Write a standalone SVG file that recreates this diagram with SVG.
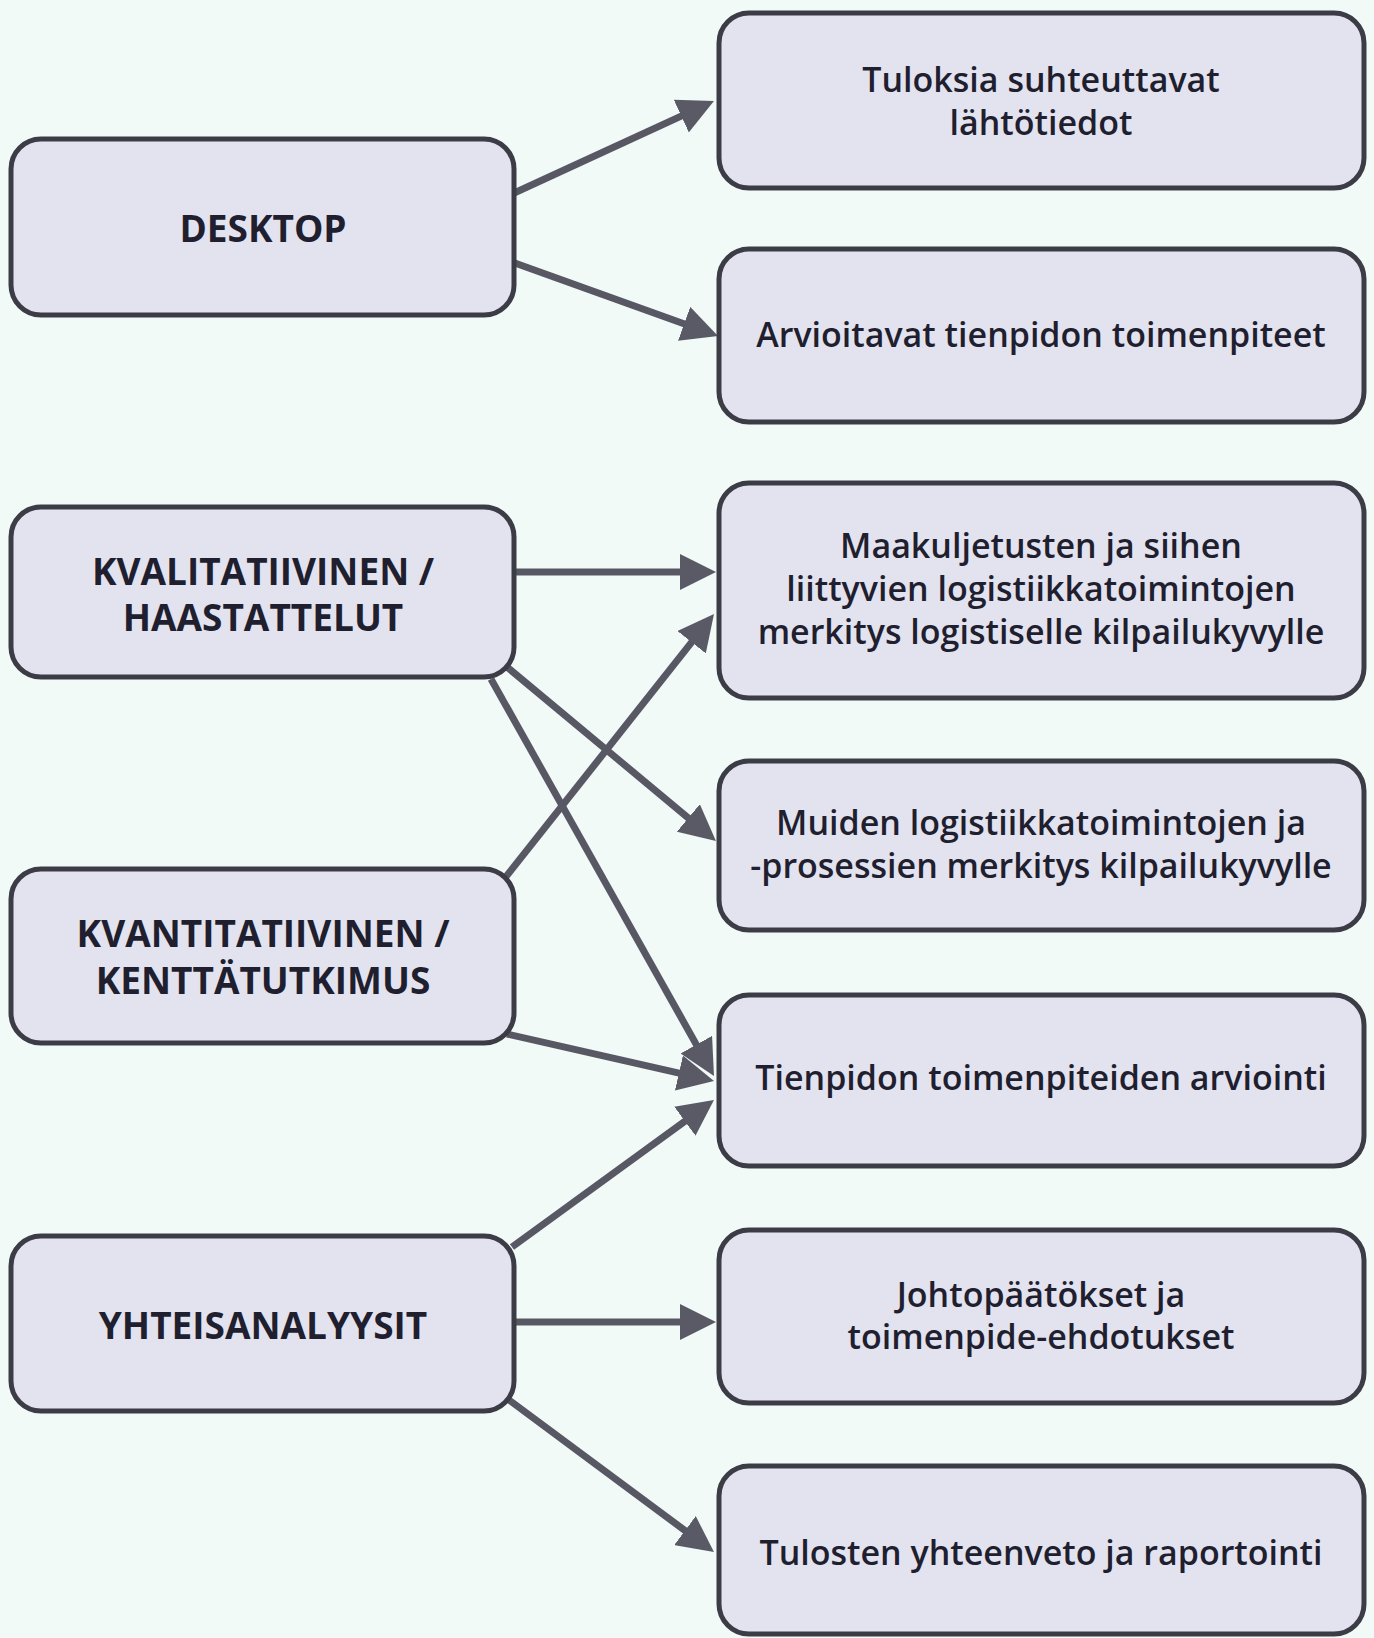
<svg xmlns="http://www.w3.org/2000/svg" width="1374" height="1638" viewBox="0 0 1374 1638">
<style>
.box{fill:#e3e3ef;stroke:#3c3c46;stroke-width:5}
.t{font-family:"Open Sans","Noto Sans",sans-serif;fill:#1f1f30;text-anchor:middle;dominant-baseline:central}
.lt{font-size:37px;font-weight:700}
.rt{font-size:34px;font-weight:600}
.c{stroke:#585864;stroke-width:7;fill:none}
</style>
<defs>
<marker id="ah" markerUnits="userSpaceOnUse" markerWidth="36" markerHeight="36" refX="16" refY="18" orient="auto" viewBox="0 0 36 36">
<path d="M0,0 L36,18 L0,36 z" fill="#5a5a66"/>
</marker>
</defs>
<rect width="1374" height="1638" fill="#f1faf7"/>
<g id="connectors">
<line class="c" x1="512" y1="194" x2="695.8" y2="109.4" marker-end="url(#ah)"/>
<line class="c" x1="512" y1="262" x2="699.2" y2="329.2" marker-end="url(#ah)"/>
<line class="c" x1="512" y1="572" x2="696" y2="572" marker-end="url(#ah)"/>
<line class="c" x1="505" y1="878" x2="701.6" y2="629.7" marker-end="url(#ah)"/>
<line class="c" x1="507" y1="667" x2="700.6" y2="828.2" marker-end="url(#ah)"/>
<line class="c" x1="491" y1="679" x2="704.2" y2="1058.6" marker-end="url(#ah)"/>
<line class="c" x1="507" y1="1034" x2="694.5" y2="1076.6" marker-end="url(#ah)"/>
<line class="c" x1="512" y1="1247" x2="697.8" y2="1111.8" marker-end="url(#ah)"/>
<line class="c" x1="512" y1="1322" x2="696" y2="1322" marker-end="url(#ah)"/>
<line class="c" x1="509" y1="1400" x2="697.9" y2="1540.1" marker-end="url(#ah)"/>
</g>
<g id="desktop"><rect class="box" x="11" y="139" width="503" height="176" rx="30"/><text class="t lt" x="263" y="227">DESKTOP</text></g>
<g id="kvalitatiivinen"><rect class="box" x="11" y="507" width="503" height="170" rx="30"/><text class="t lt" x="263" y="570">KVALITATIIVINEN /</text><text class="t lt" x="263" y="616">HAASTATTELUT</text></g>
<g id="kvantitatiivinen"><rect class="box" x="11" y="869" width="503" height="174" rx="30"/><text class="t lt" x="263" y="932">KVANTITATIIVINEN /</text><text class="t lt" x="263" y="979">KENTTÄTUTKIMUS</text></g>
<g id="yhteisanalyysit"><rect class="box" x="11" y="1236" width="503" height="175" rx="30"/><text class="t lt" x="263" y="1324">YHTEISANALYYSIT</text></g>
<g id="lahtotiedot"><rect class="box" x="719" y="13" width="645" height="175" rx="30"/><text class="t rt" x="1041" y="79">Tuloksia suhteuttavat</text><text class="t rt" x="1041" y="122">lähtötiedot</text></g>
<g id="arvioitavat"><rect class="box" x="719" y="249" width="645" height="173" rx="30"/><text class="t rt" x="1041" y="334">Arvioitavat tienpidon toimenpiteet</text></g>
<g id="maakuljetusten"><rect class="box" x="719" y="483" width="645" height="215" rx="30"/><text class="t rt" x="1041" y="545">Maakuljetusten ja siihen</text><text class="t rt" x="1041" y="588">liittyvien logistiikkatoimintojen</text><text class="t rt" x="1041" y="631">merkitys logistiselle kilpailukyvylle</text></g>
<g id="muiden"><rect class="box" x="719" y="761" width="645" height="169" rx="30"/><text class="t rt" x="1041" y="822">Muiden logistiikkatoimintojen ja</text><text class="t rt" x="1041" y="865">-prosessien merkitys kilpailukyvylle</text></g>
<g id="tienpidon"><rect class="box" x="719" y="995" width="645" height="171" rx="30"/><text class="t rt" x="1041" y="1077">Tienpidon toimenpiteiden arviointi</text></g>
<g id="johtopaatokset"><rect class="box" x="719" y="1230" width="645" height="173" rx="30"/><text class="t rt" x="1041" y="1294">Johtopäätökset ja</text><text class="t rt" x="1041" y="1336">toimenpide-ehdotukset</text></g>
<g id="tulosten"><rect class="box" x="719" y="1466" width="645" height="168" rx="30"/><text class="t rt" x="1041" y="1552">Tulosten yhteenveto ja raportointi</text></g>
</svg>
